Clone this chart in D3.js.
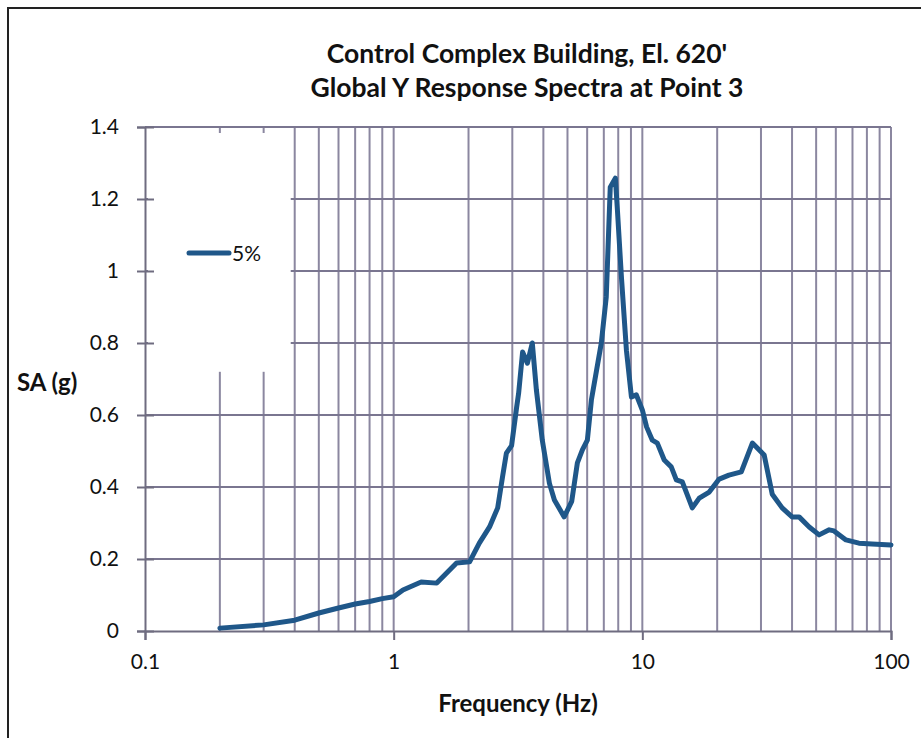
<!DOCTYPE html>
<html>
<head>
<meta charset="utf-8">
<script src="https://cdn.jsdelivr.net/npm/d3@7"></script>
<style>
  body { margin: 0; background: #fff; }
  svg { display: block; }
  text { font-family: Lato, "Open Sans", sans-serif; fill: #111; }
</style>
</head>
<body>
<div id="chart"></div>
<script>
// frequency (Hz) and spectral acceleration (g)
var freq = [0.2, 0.3, 0.4, 0.5, 0.6, 0.7, 0.8, 0.9, 1.0, 1.09, 1.29, 1.49, 1.79, 2.02, 2.21, 2.43,
  2.62, 2.74, 2.84, 2.98, 3.12, 3.18, 3.30, 3.45, 3.61, 3.75, 3.96, 4.23, 4.43, 4.85, 5.2, 5.48,
  5.74, 6.01, 6.24, 6.84, 7.16, 7.43, 7.79, 7.94, 8.24, 8.63, 9.04, 9.46, 10.0, 10.4, 10.97, 11.49,
  12.25, 13.07, 13.7, 14.48, 15.88, 16.94, 18.58, 20.37, 22.3, 25.0, 27.7, 30.9, 33.3, 36.5,
  40.0, 42.7, 46.9, 51.4, 56.4, 59.0, 65.9, 74.3, 83.9, 100];
var sa5 = [0.008, 0.017, 0.03, 0.05, 0.064, 0.075, 0.082, 0.09, 0.095, 0.114, 0.136, 0.133, 0.189, 0.192, 0.244, 0.289,
  0.342, 0.428, 0.494, 0.515, 0.62, 0.66, 0.775, 0.744, 0.80, 0.669, 0.53, 0.41, 0.364, 0.317, 0.36, 0.467,
  0.503, 0.53, 0.642, 0.80, 0.928, 1.233, 1.258, 1.169, 0.983, 0.78, 0.65, 0.656, 0.614, 0.567, 0.53, 0.522,
  0.475, 0.456, 0.42, 0.414, 0.342, 0.369, 0.386, 0.422, 0.433, 0.442, 0.522, 0.489, 0.38, 0.342,
  0.317, 0.317, 0.289, 0.267, 0.281, 0.278, 0.253, 0.244, 0.242, 0.239];

var yTicks = [0, 0.2, 0.4, 0.6, 0.8, 1, 1.2, 1.4];
var xDecades = [0.1, 1, 10, 100];
var xMinor = [0.2, 0.3, 0.4, 0.5, 0.6, 0.7, 0.8, 0.9, 2, 3, 4, 5, 6, 7, 8, 9,
  20, 30, 40, 50, 60, 70, 80, 90];
var titleLines = ["Control Complex Building, El. 620'", "Global Y Response Spectra at Point 3"];
var seriesName = "5%";

var W = 921, H = 738;
var pLeft = 145, pRight = 891, pTop = 127, pBottom = 631;
var blue = "#1f5789", grid = "#8b87a0";

var svg = d3.select("#chart").append("svg").attr("width", W).attr("height", H);

// outer chart border (runs off the right and bottom of the picture)
svg.append("rect").attr("x", 8).attr("y", 8).attr("width", W).attr("height", H)
  .attr("fill", "#fff").attr("stroke", "#222").attr("stroke-width", 2);

var x = d3.scaleLog().domain([0.1, 100]).range([pLeft, pRight]);
var y = d3.scaleLinear().domain([0, 1.4]).range([pBottom, pTop]);

// grid
var g = svg.append("g");
g.selectAll(".vg").data(xMinor.concat([1, 10, 100])).enter().append("line")
  .attr("x1", d => x(d)).attr("x2", d => x(d)).attr("y1", pTop).attr("y2", pBottom)
  .attr("stroke", grid).attr("stroke-width", 2);
g.selectAll(".hg").data(yTicks.slice(1)).enter().append("line")
  .attr("x1", pLeft).attr("x2", pRight).attr("y1", d => y(d)).attr("y2", d => y(d))
  .attr("stroke", "#7a7690").attr("stroke-width", 2.2);

// legend box hides the grid behind it
svg.append("rect").attr("x", pLeft + 3).attr("y", pTop + 6)
  .attr("width", x(0.4) - pLeft - 7).attr("height", y(0.72) - pTop - 6)
  .attr("fill", "#fff");

// axes
var yAxis = svg.append("g").attr("transform", "translate(" + pLeft + ",0)")
  .call(d3.axisLeft(y).tickValues(yTicks).tickSize(8).tickPadding(18)
    .tickFormat(d => d === 0 ? "0" : d3.format("~g")(d)));
yAxis.selectAll(".tick line").attr("x2", -8).attr("x1", 9);
var xAxis = svg.append("g").attr("transform", "translate(0," + pBottom + ")")
  .call(d3.axisBottom(x).tickValues(xDecades).tickSize(9).tickPadding(14)
    .tickFormat(d3.format("~g")));
[yAxis, xAxis].forEach(function (a) {
  a.select(".domain").attr("stroke", "#6f6c80").attr("stroke-width", 2);
  a.selectAll(".tick line").attr("stroke", "#6f6c80").attr("stroke-width", 2);
  a.selectAll("text").style("font-size", "21px").attr("fill", "#111")
    .style("font-family", "Lato, sans-serif");
});

// series
var pts = freq.map((f, i) => [f, sa5[i]]);
svg.append("path").datum(pts)
  .attr("d", d3.line().x(d => x(d[0])).y(d => y(d[1])))
  .attr("fill", "none").attr("stroke", blue).attr("stroke-width", 5)
  .attr("stroke-linejoin", "round").attr("stroke-linecap", "round");

// legend
svg.append("line").attr("x1", 189).attr("x2", 229).attr("y1", 253).attr("y2", 253)
  .attr("stroke", blue).attr("stroke-width", 5).attr("stroke-linecap", "round");
svg.append("text").attr("x", 232).attr("y", 261).style("font-size", "21px").text(seriesName);

// titles
svg.selectAll(".title").data(titleLines).enter().append("text")
  .attr("x", 527).attr("y", (d, i) => 63 + i * 34).attr("text-anchor", "middle")
  .style("font-size", "26.5px").style("font-weight", "bold").text(d => d);

svg.append("text").attr("x", 518).attr("y", 712).attr("text-anchor", "middle")
  .style("font-size", "24px").style("font-weight", "bold").text("Frequency (Hz)");
svg.append("text").attr("x", 17).attr("y", 391)
  .style("font-size", "24px").style("font-weight", "bold").text("SA (g)");
</script>
</body>
</html>
